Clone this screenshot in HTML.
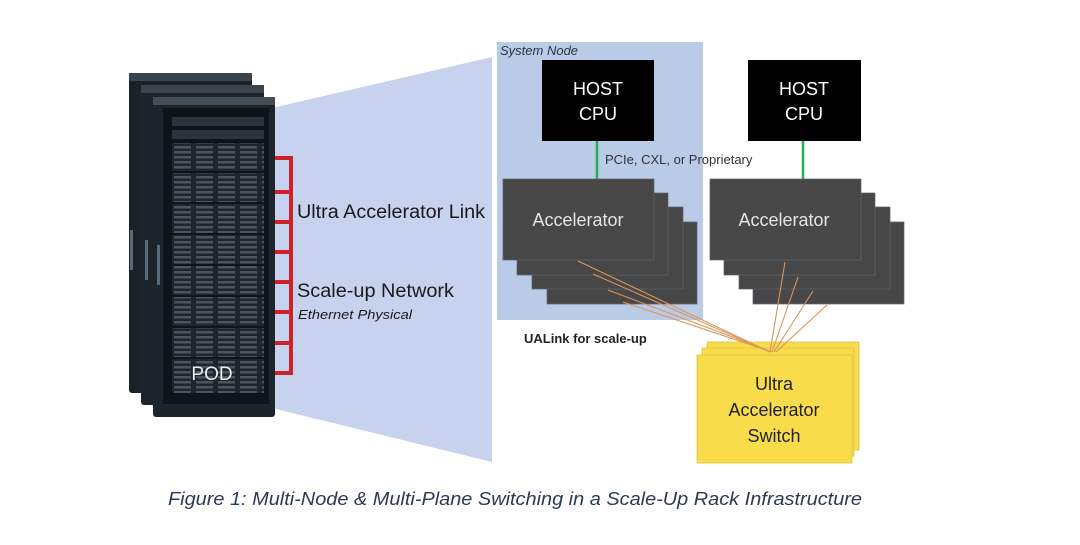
<!DOCTYPE html>
<html><head><meta charset="utf-8"><style>
html,body{margin:0;padding:0;background:#fff;}
svg{display:block;}
text{font-family:"Liberation Sans",sans-serif;}
</style></head><body>
<svg width="1080" height="545" viewBox="0 0 1080 545" xmlns="http://www.w3.org/2000/svg">
<defs>
<pattern id="srv" x="172" y="130" width="22" height="5" patternUnits="userSpaceOnUse">
<rect width="22" height="5" fill="#1e252b"/>
<rect x="2" y="1" width="17" height="2.5" fill="#4a555d"/>
</pattern>
</defs>
<!-- trapezoid -->
<polygon points="272,108 492,57 492,462 272,408" fill="#c6d2ee"/>
<!-- racks -->
<rect x="129" y="73" width="123" height="320" rx="3" fill="#1a2128"/>
<rect x="129" y="73" width="123" height="8" fill="#3a444c"/>
<rect x="130" y="230" width="3" height="40" fill="#5b6a78"/>
<rect x="141" y="85" width="123" height="320" rx="3" fill="#1c232a"/>
<rect x="141" y="85" width="123" height="8" fill="#3a444c"/>
<rect x="145" y="240" width="3" height="40" fill="#5b6a78"/>
<rect x="153" y="97" width="122" height="320" rx="3" fill="#1d252c"/>
<rect x="153" y="97" width="122" height="8" fill="#444e56"/>
<rect x="157" y="245" width="3" height="40" fill="#5b6a78"/>
<rect x="163" y="108" width="106" height="296" fill="#0f1418"/>
<rect x="172" y="117" width="92" height="9" fill="#2c353c"/>
<rect x="172" y="130" width="92" height="9" fill="#2c353c"/>
<rect x="172" y="143" width="92" height="250" fill="url(#srv)"/>
<g stroke="#0f1418" stroke-width="2">
<line x1="172" y1="172" x2="264" y2="172"/><line x1="172" y1="203" x2="264" y2="203"/>
<line x1="172" y1="234" x2="264" y2="234"/><line x1="172" y1="265" x2="264" y2="265"/>
<line x1="172" y1="296" x2="264" y2="296"/><line x1="172" y1="327" x2="264" y2="327"/>
<line x1="172" y1="358" x2="264" y2="358"/>
</g>
<text x="212" y="380" font-size="19" fill="#e8ecef" text-anchor="middle">POD</text>
<!-- red bracket -->
<g stroke="#d0202a" stroke-width="4" fill="none">
<line x1="291" y1="156" x2="291" y2="375"/>
<line x1="275" y1="158" x2="293" y2="158"/><line x1="275" y1="192" x2="293" y2="192"/>
<line x1="275" y1="222" x2="293" y2="222"/><line x1="275" y1="252" x2="293" y2="252"/>
<line x1="275" y1="282" x2="293" y2="282"/><line x1="275" y1="312" x2="293" y2="312"/>
<line x1="275" y1="343" x2="293" y2="343"/><line x1="275" y1="373" x2="293" y2="373"/>
</g>
<text x="297" y="218" font-size="19" fill="#1a1a1a" textLength="188" lengthAdjust="spacingAndGlyphs">Ultra Accelerator Link</text>
<text x="297" y="297" font-size="19" fill="#1a1a1a" textLength="157" lengthAdjust="spacingAndGlyphs">Scale-up Network</text>
<text x="298" y="319" font-size="13" font-style="italic" fill="#1a1a1a" textLength="114" lengthAdjust="spacingAndGlyphs">Ethernet Physical</text>
<!-- system node -->
<rect x="497" y="42" width="206" height="278" fill="#b9cbe7"/>
<text x="500" y="55" font-size="13" font-style="italic" fill="#2a3440">System Node</text>
<!-- host cpus -->
<rect x="542" y="60" width="112" height="81" fill="#000"/>
<text x="598" y="95" font-size="18" fill="#fff" text-anchor="middle">HOST</text>
<text x="598" y="120" font-size="18" fill="#fff" text-anchor="middle">CPU</text>
<rect x="748" y="60" width="113" height="81" fill="#000"/>
<text x="804" y="95" font-size="18" fill="#fff" text-anchor="middle">HOST</text>
<text x="804" y="120" font-size="18" fill="#fff" text-anchor="middle">CPU</text>
<line x1="597" y1="141" x2="597" y2="179" stroke="#1fb050" stroke-width="2.5"/>
<line x1="803" y1="141" x2="803" y2="179" stroke="#1fb050" stroke-width="2.5"/>
<text x="605" y="164" font-size="13" fill="#333">PCIe, CXL, or Proprietary</text>
<!-- accelerators -->
<g fill="#474747" stroke="#5a6470" stroke-width="0.7">
<rect x="547" y="222" width="150" height="82"/>
<rect x="532" y="207" width="151" height="82"/>
<rect x="517" y="193" width="151" height="82"/>
<rect x="503" y="179" width="151" height="81"/>
<rect x="753" y="222" width="151" height="82"/>
<rect x="739" y="207" width="151" height="82"/>
<rect x="724" y="193" width="151" height="82"/>
<rect x="710" y="179" width="151" height="81"/>
</g>
<text x="578" y="226" font-size="18" fill="#e4e4e4" text-anchor="middle">Accelerator</text>
<text x="784" y="226" font-size="18" fill="#e4e4e4" text-anchor="middle">Accelerator</text>
<!-- switch -->
<g fill="#f9dc4a" stroke="#d9c04a" stroke-width="0.8">
<rect x="707" y="342" width="152" height="108"/>
<rect x="702" y="348" width="152" height="108"/>
<rect x="697" y="355" width="155" height="108"/>
</g>
<text x="774" y="390" font-size="18" fill="#222" text-anchor="middle">Ultra</text>
<text x="774" y="416" font-size="18" fill="#222" text-anchor="middle">Accelerator</text>
<text x="774" y="442" font-size="18" fill="#222" text-anchor="middle">Switch</text>
<!-- links -->
<g stroke="#d9955a" stroke-width="1.1">
<line x1="578" y1="261" x2="770" y2="352"/>
<line x1="593" y1="274" x2="770" y2="352"/>
<line x1="608" y1="290" x2="772" y2="352"/>
<line x1="623" y1="302" x2="772" y2="352"/>
<line x1="785" y1="262" x2="770" y2="352"/>
<line x1="798" y1="277" x2="772" y2="352"/>
<line x1="813" y1="291" x2="774" y2="352"/>
<line x1="827" y1="305" x2="776" y2="352"/>
</g>
<text x="524" y="343" font-size="13" font-weight="bold" fill="#222">UALink for scale-up</text>
<!-- caption -->
<text x="168" y="505" font-size="18" font-style="italic" fill="#2b3a55" textLength="694" lengthAdjust="spacingAndGlyphs">Figure 1: Multi-Node &amp; Multi-Plane Switching in a Scale-Up Rack Infrastructure</text>
</svg>
</body></html>
